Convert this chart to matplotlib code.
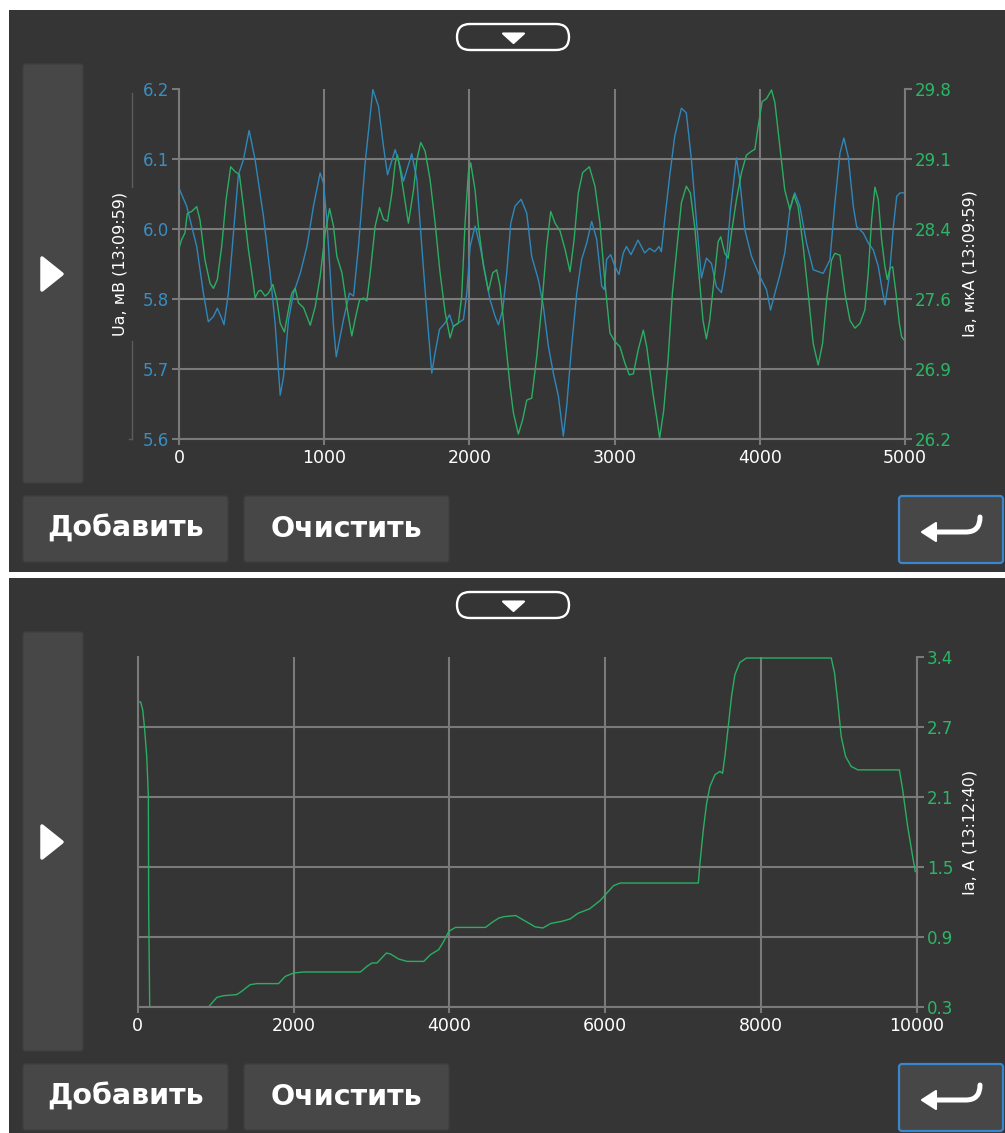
import numpy as np
import matplotlib
matplotlib.use("Agg")
import matplotlib.pyplot as plt
from matplotlib.patches import FancyBboxPatch, Rectangle, Polygon, PathPatch
from matplotlib.path import Path
from matplotlib.lines import Line2D

# ---------------- data ----------------
# top chart: Ua (mV, left axis) and Ia (uA, right axis) vs sample index
ua_x = [0, 53, 122, 168, 202, 237, 264, 294, 310, 340, 375, 409, 444, 483, 524, 582, 628, 662, 685,
        697, 720, 754, 789, 835, 881, 926, 972, 995, 1018, 1041, 1064, 1083, 1133, 1174, 1202, 1236,
        1282, 1335, 1374, 1408, 1436, 1489, 1523, 1546, 1603, 1638, 1672, 1707, 1741, 1764, 1794,
        1833, 1863, 1890, 1924, 1959, 1982, 2005, 2039, 2074, 2108, 2142, 2177, 2200, 2230, 2257,
        2285, 2314, 2356, 2395, 2429, 2475, 2509, 2544, 2578, 2613, 2647, 2670, 2704, 2739, 2773,
        2808, 2842, 2877, 2911, 2929, 2945, 2973, 3002, 3030, 3060, 3082, 3113, 3161, 3207, 3241,
        3276, 3306, 3322, 3345, 3379, 3414, 3460, 3494, 3529, 3563, 3598, 3632, 3667, 3701, 3736,
        3766, 3798, 3839, 3862, 3897, 3943, 4000, 4046, 4074, 4104, 4138, 4172, 4207, 4241, 4276,
        4322, 4368, 4402, 4437, 4483, 4517, 4552, 4579, 4609, 4644, 4667, 4713, 4747, 4782, 4816,
        4839, 4862, 4892, 4920, 4943, 4966, 4993]
ua_y = [6.030, 5.999, 5.930, 5.850, 5.801, 5.810, 5.824, 5.807, 5.796, 5.850, 5.953, 6.053, 6.079,
        6.129, 6.079, 5.981, 5.884, 5.798, 5.718, 5.675, 5.707, 5.804, 5.850, 5.884, 5.930, 5.999,
        6.056, 6.039, 5.976, 5.884, 5.793, 5.741, 5.805, 5.850, 5.845, 5.930, 6.073, 6.199, 6.170,
        6.102, 6.053, 6.096, 6.067, 6.042, 6.089, 6.045, 5.930, 5.816, 5.713, 5.748, 5.788, 5.799,
        5.813, 5.793, 5.799, 5.805, 5.850, 5.930, 5.965, 5.930, 5.885, 5.839, 5.810, 5.796, 5.822,
        5.885, 5.970, 5.999, 6.011, 5.987, 5.913, 5.873, 5.828, 5.759, 5.713, 5.673, 5.605, 5.656,
        5.759, 5.850, 5.908, 5.936, 5.973, 5.942, 5.862, 5.856, 5.908, 5.916, 5.896, 5.882, 5.919,
        5.930, 5.916, 5.941, 5.919, 5.927, 5.921, 5.930, 5.921, 5.976, 6.050, 6.119, 6.167, 6.159,
        6.079, 5.976, 5.876, 5.910, 5.901, 5.861, 5.851, 5.896, 5.993, 6.082, 6.044, 5.959, 5.913,
        5.879, 5.856, 5.821, 5.850, 5.881, 5.919, 5.993, 6.022, 5.999, 5.936, 5.890, 5.887, 5.884,
        5.907, 6.004, 6.090, 6.116, 6.084, 5.999, 5.964, 5.953, 5.936, 5.924, 5.896, 5.861, 5.830,
        5.879, 5.964, 6.016, 6.022, 6.022]

ia_x = [0, 18, 41, 57, 87, 122, 145, 179, 214, 237, 264, 294, 324, 356, 386, 416, 444, 478, 508,
        524, 547, 563, 593, 616, 646, 674, 697, 726, 754, 777, 800, 823, 858, 904, 938, 972, 1007,
        1037, 1064, 1087, 1122, 1156, 1190, 1213, 1243, 1271, 1294, 1317, 1351, 1381, 1408, 1436,
        1466, 1489, 1505, 1523, 1551, 1580, 1615, 1638, 1665, 1695, 1729, 1764, 1798, 1833, 1867,
        1890, 1924, 1947, 1970, 1993, 2009, 2039, 2062, 2097, 2131, 2161, 2188, 2211, 2234, 2257,
        2280, 2303, 2337, 2367, 2395, 2429, 2464, 2498, 2532, 2560, 2590, 2624, 2659, 2693, 2721,
        2750, 2780, 2826, 2865, 2899, 2934, 2968, 3003, 3037, 3071, 3101, 3129, 3163, 3198, 3221,
        3264, 3292, 3310, 3338, 3368, 3398, 3430, 3460, 3494, 3522, 3552, 3582, 3609, 3632, 3655,
        3690, 3713, 3731, 3759, 3782, 3805, 3839, 3874, 3908, 3943, 3966, 3989, 4016, 4046, 4081,
        4104, 4138, 4172, 4207, 4235, 4264, 4299, 4333, 4368, 4402, 4432, 4460, 4494, 4517, 4552,
        4586, 4621, 4655, 4690, 4724, 4747, 4770, 4793, 4816, 4839, 4862, 4878, 4897, 4915, 4938,
        4961, 4977, 4993]
ia_y = [28.16, 28.25, 28.32, 28.52, 28.54, 28.59, 28.45, 28.04, 27.80, 27.75, 27.84, 28.18, 28.66,
        29.00, 28.95, 28.92, 28.59, 28.15, 27.84, 27.65, 27.72, 27.73, 27.67, 27.70, 27.79, 27.63,
        27.39, 27.30, 27.53, 27.70, 27.75, 27.60, 27.55, 27.37, 27.56, 27.87, 28.32, 28.57, 28.39,
        28.08, 27.91, 27.56, 27.26, 27.43, 27.63, 27.65, 27.62, 27.91, 28.39, 28.58, 28.46, 28.44,
        28.73, 29.04, 29.12, 28.97, 28.70, 28.42, 28.76, 29.07, 29.25, 29.16, 28.87, 28.42, 27.91,
        27.50, 27.24, 27.36, 27.39, 27.67, 28.42, 28.94, 29.04, 28.76, 28.39, 27.98, 27.72, 27.91,
        27.94, 27.77, 27.43, 27.08, 26.74, 26.47, 26.25, 26.40, 26.60, 26.62, 27.05, 27.56, 28.18,
        28.54, 28.42, 28.34, 28.15, 27.92, 28.25, 28.73, 28.94, 29.00, 28.80, 28.42, 27.80, 27.29,
        27.20, 27.15, 26.98, 26.86, 26.87, 27.12, 27.32, 27.15, 26.67, 26.40, 26.21, 26.49, 27.01,
        27.70, 28.18, 28.63, 28.80, 28.73, 28.38, 27.87, 27.42, 27.23, 27.42, 27.91, 28.23, 28.28,
        28.11, 28.06, 28.32, 28.66, 28.94, 29.12, 29.16, 29.18, 29.42, 29.67, 29.70, 29.79, 29.66,
        29.21, 28.76, 28.56, 28.71, 28.59, 28.18, 27.70, 27.18, 26.96, 27.18, 27.63, 28.04, 28.11,
        28.09, 27.70, 27.42, 27.34, 27.39, 27.53, 27.91, 28.45, 28.79, 28.66, 28.25, 27.97, 27.84,
        27.96, 27.97, 27.70, 27.39, 27.25, 27.22]

# bottom chart: Ia (A)
ib_x = [0, 39, 64, 86, 116, 137, 141, 154, 908, 1015, 1100, 1272, 1336, 1443, 1529, 1807, 1893,
        2000, 2129, 2857, 2942, 3007, 3071, 3191, 3242, 3349, 3456, 3671, 3756, 3863, 3927, 3992,
        4077, 4463, 4549, 4634, 4700, 4850, 4950, 5100, 5200, 5300, 5450, 5550, 5650, 5800, 5936,
        6021, 6107, 6192, 7194, 7215, 7258, 7301, 7343, 7407, 7471, 7505, 7535, 7578, 7620, 7663,
        7727, 7812, 8900, 8942, 8985, 9027, 9083, 9155, 9241, 9774, 9816, 9880, 9944, 9978]
ib_y = [3.007, 3.00, 2.933, 2.785, 2.52, 2.165, 1.162, 0.30, 0.30, 0.385, 0.40, 0.41, 0.44, 0.498,
        0.507, 0.507, 0.571, 0.601, 0.61, 0.61, 0.66, 0.69, 0.69, 0.778, 0.77, 0.725, 0.704, 0.704,
        0.763, 0.808, 0.882, 0.97, 1.005, 1.005, 1.05, 1.088, 1.10, 1.11, 1.07, 1.01, 1.00, 1.04,
        1.06, 1.08, 1.13, 1.17, 1.244, 1.31, 1.375, 1.398, 1.398, 1.575, 1.87, 2.107, 2.254, 2.357,
        2.387, 2.37, 2.52, 2.785, 3.05, 3.243, 3.352, 3.391, 3.391, 3.258, 2.99, 2.697, 2.52, 2.431,
        2.40, 2.40, 2.225, 1.90, 1.634, 1.50]

top_xticks = [0, 1000, 2000, 3000, 4000, 5000]
top_left_ticklabels = ["5.6", "5.7", "5.8", "6.0", "6.1", "6.2"]
top_right_ticklabels = ["26.2", "26.9", "27.6", "28.4", "29.1", "29.8"]
bot_xticks = [0, 2000, 4000, 6000, 8000, 10000]
bot_right_ticklabels = ["0.3", "0.9", "1.5", "2.1", "2.7", "3.4"]

top_left_title = "Ua, мВ (13:09:59)"
top_right_title = "Ia, мкА (13:09:59)"
bot_right_title = "Ia, A (13:12:40)"
btn_add = "Добавить"
btn_clear = "Очистить"

# ---------------- style ----------------
W, H = 1005, 1133
PANEL = "#353535"
BTN = "#474747"
BTN_EDGE = "#3f3f3f"
GRID = "#7a7a7a"
BLUE = "#2f87ba"
GREEN = "#2bae62"
BLUE_TXT = "#3a8dc0"
GREEN_TXT = "#2db566"
FONT = "DejaVu Sans"
plt.rcParams["font.family"] = [FONT]

fig = plt.figure(figsize=(W / 100, H / 100), dpi=100)
fig.patch.set_facecolor("white")

bg = fig.add_axes([0, 0, 1, 1], zorder=0)
bg.set_xlim(0, W)
bg.set_ylim(H, 0)
bg.axis("off")


def box(x0, y0, x1, y1):
    return [x0 / W, 1 - y1 / H, (x1 - x0) / W, (y1 - y0) / H]


def rbox(x0, y0, x1, y1, r=3, fc=BTN, ec=BTN_EDGE, lw=1.0, z=1):
    p = FancyBboxPatch((x0, y0), x1 - x0, y1 - y0,
                       boxstyle=f"round,pad=0,rounding_size={r}",
                       facecolor=fc, edgecolor=ec, linewidth=lw, zorder=z)
    bg.add_patch(p)


def panel_chrome(dy):
    bg.add_patch(Rectangle((9, 10 + dy), W - 9, 562 if dy == 0 else H - (10 + dy),
                           facecolor=PANEL, edgecolor="none", zorder=0))
    # toggle pill
    rbox(457, 24 + dy, 569, 50 + dy, r=13, fc="none", ec="white", lw=1.7, z=2)
    bg.add_patch(Polygon([(503, 33.5 + dy), (524, 33.5 + dy), (513.5, 43 + dy)], closed=True,
                         facecolor="white", edgecolor="white", lw=1.5, joinstyle="round", zorder=3))
    # left big button
    rbox(23, 64 + dy, 83, 483 + dy, r=3)
    bg.add_patch(Polygon([(42, 258 + dy), (42, 290 + dy), (62, 274 + dy)], closed=True,
                         facecolor="white", edgecolor="white", lw=2.5, joinstyle="round", zorder=3))
    # bottom buttons
    rbox(23, 496 + dy, 228, 562 + dy, r=3)
    rbox(244, 496 + dy, 449, 562 + dy, r=3)
    bg.text(125.5, 529 + dy, btn_add, ha="center", va="center", color="white",
            fontsize=20.5, fontweight="bold", zorder=4)
    bg.text(346.5, 529 + dy, btn_clear, ha="center", va="center", color="white",
            fontsize=20.5, fontweight="bold", zorder=4)
    # return button
    rbox(899, 496 + dy, 1003, 563 + dy, r=3, ec="#3a86cc", lw=1.6)
    verts = [(934, 532 + dy), (966, 532 + dy), (980, 532 + dy), (980, 517 + dy)]
    codes = [Path.MOVETO, Path.LINETO, Path.CURVE3, Path.CURVE3]
    bg.add_patch(PathPatch(Path(verts, codes), facecolor="none", edgecolor="white",
                           lw=3.6, capstyle="round", joinstyle="round", zorder=4))
    bg.add_patch(Polygon([(922, 532 + dy), (936, 523 + dy), (936, 541 + dy)], closed=True,
                         facecolor="white", edgecolor="white", lw=1.5, joinstyle="round", zorder=4))


panel_chrome(0)
panel_chrome(568)


def style_axes(ax):
    ax.set_facecolor("none")
    for s in ax.spines.values():
        s.set_color(GRID)
        s.set_linewidth(1.5)
    ax.spines["top"].set_visible(False)


# ---------------- top chart ----------------
ax1 = fig.add_axes(box(179, 89, 905, 439), zorder=2)
style_axes(ax1)
ax1.spines["right"].set_visible(False)
ax1.set_xlim(0, 5000)
ax1.set_ylim(5.6, 6.2)
ax1.set_xticks(top_xticks)
ax1.set_xticklabels([str(v) for v in top_xticks])
ax1.set_yticks(np.linspace(5.6, 6.2, 6))
ax1.set_yticklabels(top_left_ticklabels)
ax1.tick_params(axis="x", colors=GRID, labelcolor="white", length=4, width=1.5,
                labelsize=12.5, pad=3)
ax1.tick_params(axis="y", colors=GRID, labelcolor=BLUE_TXT, length=5, width=1.5,
                labelsize=12, pad=2)
ax1.grid(True, color=GRID, linewidth=1.5)
ax1.yaxis.get_gridlines()[-1].set_visible(False)
ax1.plot(ua_x, ua_y, color=BLUE, lw=1.0, solid_joinstyle="round")

ax2 = ax1.twinx()
ax2.set_facecolor("none")
for k in ["top", "left", "bottom"]:
    ax2.spines[k].set_visible(False)
ax2.spines["right"].set_color(GRID)
ax2.spines["right"].set_linewidth(1.5)
ax2.set_ylim(26.2, 29.8)
ax2.set_yticks(np.linspace(26.2, 29.8, 6))
ax2.set_yticklabels(top_right_ticklabels)
ax2.tick_params(axis="y", colors=GRID, labelcolor=GREEN_TXT, length=5, width=1.5,
                labelsize=12, pad=2)
ax2.plot(ia_x, ia_y, color=GREEN, lw=1.0, solid_joinstyle="round")

bg.text(120, 264, top_left_title, rotation=90, ha="center", va="center",
        color="white", fontsize=11.5, zorder=4)
bg.text(970, 264, top_right_title, rotation=90, ha="center", va="center",
        color="white", fontsize=11.5, zorder=4)
# thin secondary axis line on the left
bg.add_line(Line2D([132, 132], [93, 187], color="#5c5c5c", lw=1, zorder=2))
bg.add_line(Line2D([132, 132], [341, 439], color="#5c5c5c", lw=1, zorder=2))
bg.add_line(Line2D([129, 132], [439, 439], color="#5c5c5c", lw=1, zorder=2))

# ---------------- bottom chart ----------------
ax3 = fig.add_axes(box(137.7, 657, 917, 1007), zorder=2)
style_axes(ax3)
ax3.set_xlim(0, 10000)
ax3.set_ylim(0.3, 3.4)
ax3.set_xticks(bot_xticks)
ax3.set_xticklabels([str(v) for v in bot_xticks])
ax3.set_yticks(np.linspace(0.3, 3.4, 6))
ax3.set_yticklabels(bot_right_ticklabels)
ax3.yaxis.tick_right()
ax3.tick_params(axis="x", colors=GRID, labelcolor="white", length=4, width=1.5,
                labelsize=12.5, pad=3)
ax3.tick_params(axis="y", colors=GRID, labelcolor=GREEN_TXT, length=5, width=1.5,
                labelsize=12, pad=2)
ax3.grid(True, color=GRID, linewidth=1.5)
ax3.yaxis.get_gridlines()[-1].set_visible(False)
ax3.plot(ib_x, ib_y, color=GREEN, lw=1.0, solid_joinstyle="round", clip_on=False)
bg.text(970, 832, bot_right_title, rotation=90, ha="center", va="center",
        color="white", fontsize=11.5, zorder=4)

fig.savefig("out.png", dpi=100, facecolor=fig.get_facecolor())
